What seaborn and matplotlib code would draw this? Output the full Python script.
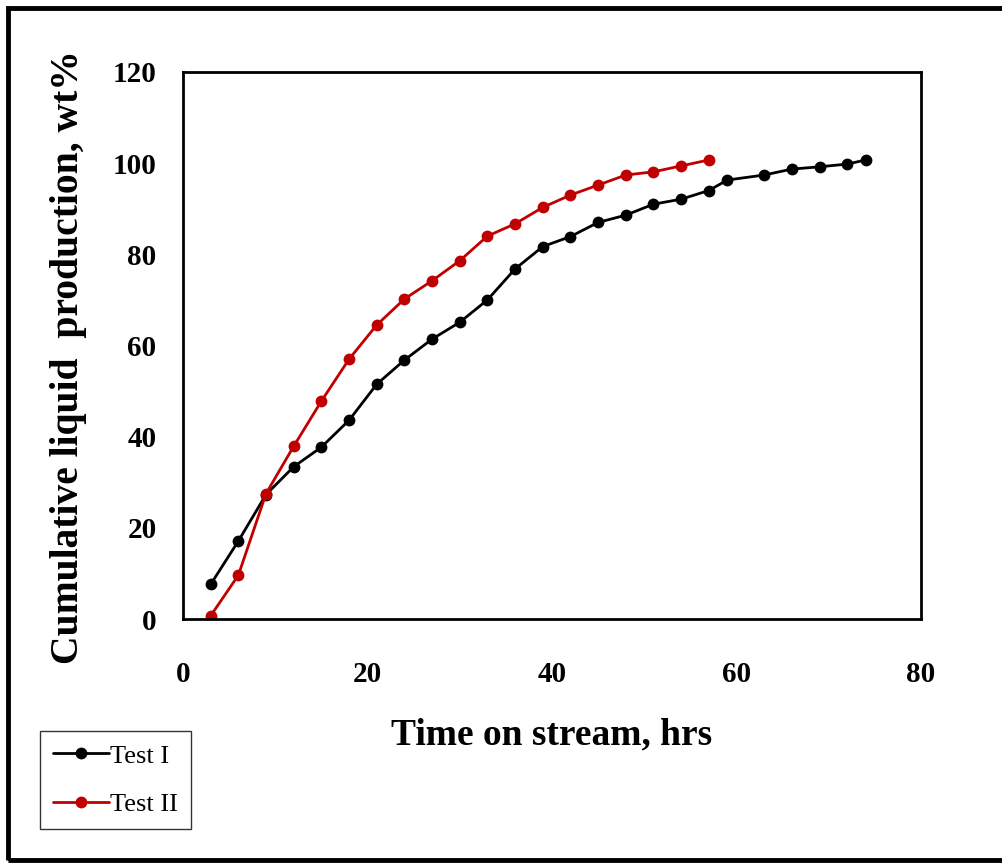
import matplotlib
matplotlib.use("Agg")
import matplotlib.pyplot as plt
from matplotlib.patches import Rectangle
import seaborn as sns
import pandas as pd

# Cumulative liquid production vs time on stream for two test runs
test1_time = [3, 6, 9, 12, 15, 18, 21, 24, 27, 30, 33, 36, 39, 42, 45, 48, 51,
              54, 57, 59, 63, 66, 69, 72, 74]
test1_yield = [7.6, 17.1, 27.3, 33.4, 37.7, 43.6, 51.5, 56.8, 61.4, 65.1, 70.0,
               76.8, 81.7, 83.9, 87.0, 88.6, 91.0, 92.1, 94.0, 96.3, 97.4, 98.7,
               99.2, 99.8, 100.7]

test2_time = [3, 6, 9, 12, 15, 18, 21, 24, 27, 30, 33, 36, 39, 42, 45, 48, 51,
              54, 57]
test2_yield = [0.7, 9.6, 27.5, 37.9, 47.8, 57.0, 64.5, 70.2, 74.2, 78.6, 84.0,
               86.7, 90.3, 93.0, 95.2, 97.4, 98.1, 99.4, 100.7]

series_names = ["Test I", "Test II"]
series_colors = ["#000000", "#c00000"]
x_ticks = [0, 20, 40, 60, 80]
y_ticks = [0, 20, 40, 60, 80, 100, 120]

df = pd.concat([
    pd.DataFrame({"time": test1_time, "yield": test1_yield, "test": series_names[0]}),
    pd.DataFrame({"time": test2_time, "yield": test2_yield, "test": series_names[1]}),
], ignore_index=True)

sns.set_theme(style="white")
plt.rcParams["font.family"] = ["Liberation Serif", "DejaVu Serif"]
plt.rcParams["text.color"] = "black"
plt.rcParams["axes.labelcolor"] = "black"
plt.rcParams["xtick.color"] = "black"
plt.rcParams["ytick.color"] = "black"

fig = plt.figure(figsize=(10.03, 8.63), dpi=100)
ax = fig.add_axes([183 / 1003, 1 - 619 / 863, 738 / 1003, 547 / 863])

sns.lineplot(data=df, x="time", y="yield", hue="test", hue_order=series_names,
             palette=series_colors, marker="o", markersize=8.5, linewidth=2,
             markeredgewidth=0, sort=False, ax=ax)

ax.set_xlim(0, 80)
ax.set_ylim(0, 120)
ax.set_xticks(x_ticks)
ax.set_yticks(y_ticks)
ax.tick_params(axis="both", length=0, labelsize=21, labelcolor="black")
ax.tick_params(axis="x", pad=30)
ax.tick_params(axis="y", pad=19)
for lbl in ax.get_xticklabels() + ax.get_yticklabels():
    lbl.set_fontweight("bold")

for side in ax.spines.values():
    side.set_color("black")
    side.set_linewidth(2)

ax.set_xlabel("Time on stream, hrs", fontsize=27, fontweight="bold",
              va="center", color="black")
ax.set_ylabel("Cumulative liquid  production, wt%", fontsize=28.5,
              fontweight="bold", va="center", color="black")
ax.xaxis.set_label_coords(0.5, -0.212)
ax.yaxis.set_label_coords(-0.155, 0.479)

leg = ax.legend(loc="upper left", bbox_to_anchor=(40 / 1003, 1 - 731 / 863),
                bbox_transform=fig.transFigure, frameon=True, fancybox=False,
                fontsize=19, handlelength=2.1, handletextpad=0.05,
                borderpad=0.5, labelspacing=0.95, borderaxespad=0)
leg.get_frame().set_edgecolor("black")
leg.get_frame().set_linewidth(1.0)
for txt in leg.get_texts():
    txt.set_color("black")
leg.set_title(None)

# Outer frame around the whole figure
fig.patches.append(Rectangle((8 / 1003, 3 / 863), 1.2, 1 - 11 / 863,
                             transform=fig.transFigure, fill=False,
                             edgecolor="black", linewidth=3.5))

fig.savefig("out.png", dpi=100)
